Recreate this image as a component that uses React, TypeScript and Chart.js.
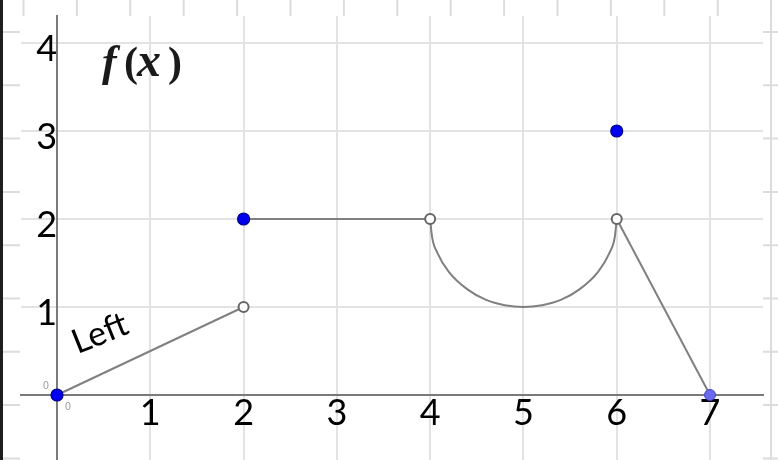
import React, { useEffect, useRef } from "react";
import { Chart, registerables } from "chart.js";

Chart.register(...registerables);

// ---- data ----
const rampX = [0, 2];
const rampY = [0, 1];
const flatX = [2, 4];
const flatY = [2, 2];
const arcX = [4, 4.02, 4.08, 4.2, 4.4, 4.6, 4.8, 5, 5.2, 5.4, 5.6, 5.8, 5.92, 5.98, 6];
const arcY = [2, 1.8, 1.61, 1.4, 1.2, 1.08, 1.02, 1, 1.02, 1.08, 1.2, 1.4, 1.61, 1.8, 2];
const dropX = [6, 7];
const dropY = [2, 0];
const filledX = [0, 2, 6];
const filledY = [0, 2, 3];
const openX = [2, 4, 6];
const openY = [1, 2, 2];
const endX = [7];
const endY = [0];
const xTickValues = [1, 2, 3, 4, 5, 6, 7];
const xTickLabels = ["1", "2", "3", "4", "5", "6", "7"];
const yTickValues = [1, 2, 3, 4];
const yTickLabels = ["1", "2", "3", "4"];
const titleParts = ["f", "(", "x", ")"];
const noteText = "Left";
const zeroText = "0";

const pts = (xs: number[], ys: number[]) => xs.map((x, i) => ({ x, y: ys[i] }));

const decorPlugin = {
  id: "decor",
  beforeDraw(chart: any) {
    const ctx = chart.ctx;
    ctx.save();
    ctx.fillStyle = "#ffffff";
    ctx.fillRect(0, 0, chart.width, chart.height);
    // screenshot frame: rulers
    ctx.strokeStyle = "#dcdcdc";
    ctx.lineWidth = 2;
    ctx.beginPath();
    for (let k = 0; k < 15; k++) {
      const x = 23.5 + k * 53.4;
      ctx.moveTo(x, 0);
      ctx.lineTo(x, 16);
    }
    for (let k = 0; k < 9; k++) {
      const y = 32 + k * 53.3;
      ctx.moveTo(3, y);
      ctx.lineTo(20, y);
      ctx.moveTo(763, y);
      ctx.lineTo(778, y);
    }
    ctx.moveTo(771, 0);
    ctx.lineTo(771, chart.height);
    ctx.stroke();
    ctx.fillStyle = "#1e1e1e";
    ctx.fillRect(0, 0, 3, chart.height);
    ctx.restore();
  },
  afterDraw(chart: any) {
    const ctx = chart.ctx;
    const xs = chart.scales.x;
    const ys = chart.scales.y;
    ctx.save();
    // title f(x)
    ctx.fillStyle = "#1a1a1a";
    ctx.textBaseline = "alphabetic";
    ctx.textAlign = "left";
    const fonts = [
      "bold italic 44px 'Liberation Serif'",
      "bold 42px 'Liberation Serif'",
      "bold italic 48px 'Liberation Serif'",
      "bold 42px 'Liberation Serif'",
    ];
    const cx = [102, 124, 137, 168];
    titleParts.forEach((c, i) => {
      ctx.font = fonts[i];
      ctx.fillText(c, cx[i], 76);
    });
    // note "Left"
    ctx.save();
    ctx.translate(xs.getPixelForValue(0.46), ys.getPixelForValue(0.7));
    ctx.rotate(-0.38);
    ctx.font = "400 34px Lato";
    ctx.fillStyle = "#000000";
    ctx.textAlign = "center";
    ctx.textBaseline = "middle";
    ctx.fillText(noteText, 0, 0);
    ctx.restore();
    // small zeros near origin
    ctx.font = "10px 'DejaVu Sans'";
    ctx.fillStyle = "#a0a0a0";
    ctx.textAlign = "center";
    ctx.textBaseline = "middle";
    ctx.fillText(zeroText, xs.getPixelForValue(0) - 11, ys.getPixelForValue(0) - 9);
    ctx.fillText(zeroText, xs.getPixelForValue(0) + 11, ys.getPixelForValue(0) + 12);
    ctx.restore();
  },
};

export default function App() {
  const ref = useRef<HTMLCanvasElement>(null);
  useEffect(() => {
    document.body.style.margin = "0";
    const lineStyle = {
      showLine: true,
      borderColor: "#808080",
      borderWidth: 2,
      pointRadius: 0,
      pointHoverRadius: 0,
      fill: false,
      order: 2,
    };
    const tickFont = { family: "Lato", size: 36, weight: "400" as any };
    const chart = new Chart(ref.current as HTMLCanvasElement, {
      type: "scatter",
      data: {
        datasets: [
          { ...lineStyle, data: pts(rampX, rampY) },
          { ...lineStyle, data: pts(flatX, flatY) },
          { ...lineStyle, data: pts(arcX, arcY), cubicInterpolationMode: "monotone" },
          { ...lineStyle, data: pts(dropX, dropY) },
          {
            data: pts(filledX, filledY),
            pointRadius: 6,
            pointBackgroundColor: "#0000f0",
            pointBorderColor: "#00008a",
            pointBorderWidth: 1.2,
            order: 0,
          },
          {
            data: pts(openX, openY),
            pointRadius: 5,
            pointBackgroundColor: "#ffffff",
            pointBorderColor: "#666666",
            pointBorderWidth: 2,
            order: 0,
          },
          {
            data: pts(endX, endY),
            pointRadius: 5.5,
            pointBackgroundColor: "#6a6af0",
            pointBorderColor: "#4848c0",
            pointBorderWidth: 1,
            order: 0,
          },
        ] as any,
      },
      options: {
        animation: false,
        responsive: false,
        events: [],
        layout: { autoPadding: false, padding: { left: 21, top: 16, right: 15, bottom: 0 } },
        plugins: { legend: { display: false }, tooltip: { enabled: false } },
        scales: {
          x: {
            type: "linear",
            position: { y: 0 } as any,
            min: -0.386,
            max: 7.568,
            grid: {
              color: (c: any) => (c.tick && c.tick.value === 0 ? "rgba(0,0,0,0)" : "#e3e3e3"),
              lineWidth: 2,
              drawTicks: false,
            },
            border: { display: true, color: "#7a7a7a", width: 2 },
            ticks: {
              stepSize: 1,
              includeBounds: false,
              padding: -3,
              color: "#000000",
              font: tickFont,
              maxRotation: 0,
              autoSkip: false,
              callback: (v: any) => {
                const i = xTickValues.indexOf(Number(v));
                return i >= 0 ? xTickLabels[i] : "";
              },
            },
            afterFit: (s: any) => {
              s.paddingLeft = 0;
              s.paddingRight = 0;
              s.paddingTop = 0;
              s.paddingBottom = 0;
            },
          },
          y: {
            type: "linear",
            position: { x: 0 } as any,
            min: -0.739,
            max: 4.307,
            grid: {
              color: (c: any) => (c.tick && c.tick.value === 0 ? "rgba(0,0,0,0)" : "#e3e3e3"),
              lineWidth: 2,
              drawTicks: false,
            },
            border: { display: true, color: "#7a7a7a", width: 2 },
            ticks: {
              stepSize: 1,
              includeBounds: false,
              padding: 6,
              labelOffset: 6,
              color: "#000000",
              font: tickFont,
              autoSkip: false,
              callback: (v: any) => {
                const i = yTickValues.indexOf(Number(v));
                return i >= 0 ? yTickLabels[i] : "";
              },
            },
            afterFit: (s: any) => {
              s.paddingLeft = 0;
              s.paddingRight = 0;
              s.paddingTop = 0;
              s.paddingBottom = 0;
            },
          },
        },
      },
      plugins: [decorPlugin],
    });
    return () => chart.destroy();
  }, []);
  return (
    <div style={{ width: 778, height: 460 }}>
      <canvas ref={ref} width={778} height={460} style={{ display: "block" }} />
    </div>
  );
}
